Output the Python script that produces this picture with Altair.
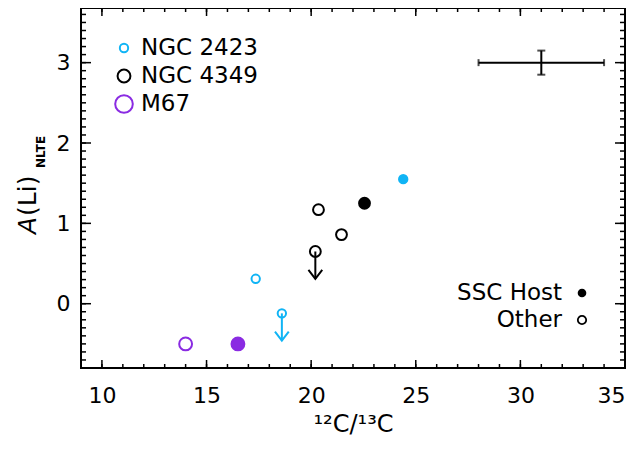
import altair as alt
import pandas as pd

# ---------------- data ----------------
cluster = ["NGC 2423", "NGC 2423", "NGC 2423",
           "NGC 4349", "NGC 4349", "NGC 4349", "NGC 4349",
           "M67", "M67"]
c12c13 = [24.4, 17.35, 18.6, 22.55, 20.35, 21.45, 20.2, 14.0, 16.5]
ali_nlte = [1.55, 0.31, -0.12, 1.25, 1.17, 0.86, 0.65, -0.5, -0.5]
ssc_host = [True, False, False, True, False, False, False, False, True]
upper_limit = [False, False, True, False, False, False, True, False, False]
limit_arrow = 0.34

clusters = ["NGC 2423", "NGC 4349", "M67"]
cluster_colors = ["#10b4f5", "#000000", "#8a2be2"]
cluster_sizes = [70, 165, 310]

err_x, err_y, err_dx, err_dy = [31.0], [3.0], [3.0], [0.15]

x_major = [10, 15, 20, 25, 30, 35]
x_minor = list(range(10, 35))
y_major = [0, 1, 2, 3]
y_minor = [round(-0.7 + 0.1 * i, 1) for i in range(44)]

host_labels = ["SSC Host", "Other"]
host_filled = [True, False]

# ---------------- layout ----------------
W, H = 544, 360
FONT = "DejaVu Sans"
xs = alt.Scale(domain=[9, 35], nice=False, zero=False)
ys = alt.Scale(domain=[-0.8, 3.68], nice=False, zero=False)
cs = alt.Scale(domain=clusters, range=cluster_colors)
ss = alt.Scale(domain=clusters, range=cluster_sizes)

df = pd.DataFrame({"cluster": cluster, "x": c12c13, "y": ali_nlte,
                   "host": ssc_host, "ul": upper_limit})
df["tip"] = df["y"] - limit_arrow

XA = alt.Axis(values=x_major, ticks=False, domain=False, grid=False,
              labelFont=FONT, labelFontSize=22, labelColor="black",
              labelPadding=17, title="¹²C/¹³C", titleFont=FONT,
              titleFontSize=24, titleFontWeight="normal", titleColor="black",
              titlePadding=6)
YA = alt.Axis(values=y_major, ticks=False, domain=False, grid=False,
              labelFont=FONT, labelFontSize=22, labelColor="black",
              labelPadding=11, title="")


def X(field):
    return alt.X(field, scale=xs, axis=XA)


def Y(field):
    return alt.Y(field, scale=ys, axis=YA)


COL = alt.Color("cluster:N", scale=cs, legend=None)
SIZ = alt.Size("cluster:N", scale=ss, legend=None)

open_pts = alt.Chart(df[~df["host"]]).mark_point(
    shape="circle", filled=False, strokeWidth=2, opacity=1).encode(
    x=X("x:Q"), y=Y("y:Q"), color=COL, size=SIZ)

filled_pts = alt.Chart(df[df["host"]]).mark_point(
    shape="circle", filled=True, strokeWidth=2, opacity=1).encode(
    x=X("x:Q"), y=Y("y:Q"), color=COL,
    stroke=alt.Stroke("cluster:N", scale=cs, legend=None), size=SIZ)

ul = df[df["ul"]]
ul_rule = alt.Chart(ul).mark_rule(strokeWidth=2).encode(
    x=X("x:Q"), y=Y("y:Q"), y2="tip:Q", color=COL)
ul_head = alt.Chart(ul).mark_point(
    shape="M-1,-1.3L0,0L1,-1.3", filled=False, strokeWidth=2, size=190,
    opacity=1).encode(x=X("x:Q"), y=Y("tip:Q"), color=COL)

edf = pd.DataFrame({"x": err_x, "y": err_y, "dx": err_dx, "dy": err_dy})
edf["x0"] = edf["x"] - edf["dx"]
edf["x1"] = edf["x"] + edf["dx"]
edf["y0"] = edf["y"] - edf["dy"]
edf["y1"] = edf["y"] + edf["dy"]
ebase = alt.Chart(edf)
err_h = ebase.mark_rule(color="black", strokeWidth=2).encode(
    x=X("x0:Q"), x2="x1:Q", y=Y("y:Q"))
err_v = ebase.mark_rule(color="black", strokeWidth=2).encode(
    x=X("x:Q"), y=Y("y0:Q"), y2="y1:Q")
cap_l = ebase.mark_tick(color="black", orient="vertical", size=7, thickness=2).encode(
    x=X("x0:Q"), y=Y("y:Q"))
cap_r = ebase.mark_tick(color="black", orient="vertical", size=7, thickness=2).encode(
    x=X("x1:Q"), y=Y("y:Q"))
cap_b = ebase.mark_tick(color="black", orient="horizontal", size=8, thickness=2).encode(
    x=X("x:Q"), y=Y("y0:Q"))
cap_t = ebase.mark_tick(color="black", orient="horizontal", size=8, thickness=2).encode(
    x=X("x:Q"), y=Y("y1:Q"))


def xticks(vals, length, side):
    y0, y1 = (H, H - length) if side == "bottom" else (0, length)
    return alt.Chart(pd.DataFrame({"v": vals})).mark_rule(
        color="black", strokeWidth=1.5).encode(
        x=X("v:Q"), y=alt.value(y0), y2=alt.value(y1))


def yticks(vals, length, side):
    x0, x1 = (0, length) if side == "left" else (W, W - length)
    return alt.Chart(pd.DataFrame({"v": vals})).mark_rule(
        color="black", strokeWidth=1.5).encode(
        y=Y("v:Q"), x=alt.value(x0), x2=alt.value(x1))


tick_layers = [
    xticks(x_minor, 4, "bottom"), xticks(x_major, 8, "bottom"),
    xticks(x_minor, 4, "top"), xticks(x_major, 8, "top"),
    yticks(y_minor, 5, "left"), yticks(y_major, 10, "left"),
    yticks(y_minor, 5, "right"), yticks(y_major, 10, "right"),
]

# ---------------- legends ----------------
legend_layers = []
for i, (name, col, siz) in enumerate(zip(clusters, cluster_colors, cluster_sizes)):
    py = 40 + 28 * i
    one = alt.Chart(pd.DataFrame({"label": [name]}))
    legend_layers.append(one.mark_point(
        shape="circle", filled=False, strokeWidth=2, color=col, size=siz,
        opacity=1).encode(x=alt.value(43), y=alt.value(py)))
    legend_layers.append(one.mark_text(
        align="left", baseline="middle", font=FONT, fontSize=23,
        color="black").encode(x=alt.value(60), y=alt.value(py), text="label:N"))

for i, (lab, fil) in enumerate(zip(host_labels, host_filled)):
    py = 285 + 27 * i
    one = alt.Chart(pd.DataFrame({"label": [lab]}))
    legend_layers.append(one.mark_text(
        align="right", baseline="middle", font=FONT, fontSize=23,
        color="black").encode(x=alt.value(481), y=alt.value(py), text="label:N"))
    legend_layers.append(one.mark_point(
        shape="circle", filled=fil, color="black", strokeWidth=1.8,
        size=75 if fil else 70, opacity=1).encode(x=alt.value(501), y=alt.value(py)))

# ---------------- y title ----------------
ttl = pd.DataFrame({"a": ["A"], "b": ["(Li)"], "c": ["NLTE"]})
t_a = alt.Chart(ttl).mark_text(angle=270, align="left", baseline="middle",
                               font=FONT, fontSize=25, fontStyle="italic",
                               color="black").encode(
    text="a:N", x=alt.value(-53), y=alt.value(226))
t_b = alt.Chart(ttl).mark_text(angle=270, align="left", baseline="middle",
                               font=FONT, fontSize=25, color="black").encode(
    text="b:N", x=alt.value(-53), y=alt.value(208))
t_c = alt.Chart(ttl).mark_text(angle=270, align="left", baseline="middle",
                               font=FONT, fontSize=12, fontWeight="bold",
                               color="black").encode(
    text="c:N", x=alt.value(-40), y=alt.value(160))

chart = alt.layer(
    open_pts, *tick_layers, filled_pts, ul_rule, ul_head,
    err_h, err_v, cap_l, cap_r, cap_b, cap_t,
    *legend_layers, t_a, t_b, t_c,
).properties(
    width=W, height=H, autosize="none",
    padding={"left": 73, "top": 0, "right": 9, "bottom": 82},
).configure_view(stroke="black", strokeWidth=2).configure_axis(grid=False)

chart.save("out.html", embed_options={"renderer": "svg", "actions": False})
